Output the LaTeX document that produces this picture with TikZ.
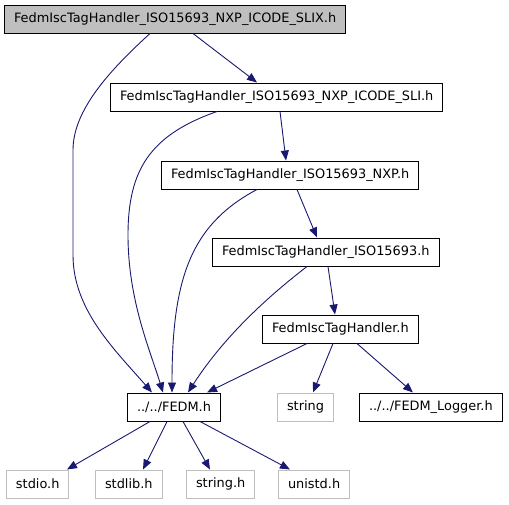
\documentclass[tikz,border=0pt]{standalone}
\usepackage{fontspec}
\setmainfont{DejaVu Sans}
\definecolor{edgeblue}{HTML}{191970}
\definecolor{sysgray}{HTML}{BFBFBF}
\usetikzlibrary{arrows.meta}

\begin{document}
\begin{tikzpicture}[x=1pt, y=-1pt,
    hdr/.style={draw=black, line width=1pt, minimum height=28pt, inner xsep=9.5pt,
        inner ysep=0pt, anchor=west, font=\fontsize{12.9}{15}\selectfont},
    syshdr/.style={hdr, draw=sysgray},
    curhdr/.style={hdr, fill=sysgray},
    incl/.style={draw=edgeblue, line width=0.9pt, -{Triangle[length=10pt,width=8pt]}}]
    \useasboundingbox (0,0) rectangle (509,504);

    % headers, one rank per row
    \node[curhdr] (slix) at (4,19) {FedmIscTagHandler\_ISO15693\_NXP\_ICODE\_SLIX.h};
    \node[hdr] (sli) at (110,97) {FedmIscTagHandler\_ISO15693\_NXP\_ICODE\_SLI.h};
    \node[hdr] (nxp) at (161,175) {FedmIscTagHandler\_ISO15693\_NXP.h};
    \node[hdr] (iso) at (212,252) {FedmIscTagHandler\_ISO15693.h};
    \node[hdr] (handler) at (262,329) {FedmIscTagHandler.h};
    \node[hdr] (fedm) at (127,407) {../../FEDM.h};
    \node[syshdr] (strng) at (277,407) {string};
    \node[hdr] (logger) at (359,407) {../../FEDM\_Logger.h};
    \node[syshdr] (stdio) at (6,484) {stdio.h};
    \node[syshdr] (stdlib) at (95,484) {stdlib.h};
    \node[syshdr] (strh) at (186,484) {string.h};
    \node[syshdr] (unistd) at (278,484) {unistd.h};

    % include edges
    \draw[incl] ([xshift=189pt]slix.south west) -- ([xshift=147pt]sli.north west);
    \draw[incl] ([xshift=146pt]slix.south west) .. controls (110,70) and (73,110) .. (73,150)
        -- (73,255) .. controls (73,310) and (115,350) .. ([xshift=25pt]fedm.north west);
    \draw[incl] ([xshift=107pt]sli.south west) .. controls (150,135) and (128,170) .. (128,235)
        .. controls (128,300) and (150,350) .. ([xshift=36pt]fedm.north west);
    \draw[incl] ([xshift=170pt]sli.south west) -- ([xshift=125pt]nxp.north west);
    \draw[incl] ([xshift=96pt]nxp.south west) .. controls (190,225) and (172,280)
        .. ([xshift=45pt]fedm.north west);
    \draw[incl] ([xshift=136pt]nxp.south west) -- ([xshift=105pt]iso.north west);
    \draw[incl] ([xshift=95pt]iso.south west) .. controls (270,295) and (225,335)
        .. ([xshift=61pt]fedm.north west);
    \draw[incl] ([xshift=116pt]iso.south west) -- ([xshift=73pt]handler.north west);
    \draw[incl] ([xshift=45pt]handler.south west) -- ([xshift=80pt]fedm.north west);
    \draw[incl] ([xshift=71pt]handler.south west) -- ([xshift=36pt]strng.north west);
    \draw[incl] ([xshift=95pt]handler.south west) -- ([xshift=54pt]logger.north west);
    \draw[incl] ([xshift=23pt]fedm.south west) -- ([xshift=61pt]stdio.north west);
    \draw[incl] ([xshift=40pt]fedm.south west) -- ([xshift=48pt]stdlib.north west);
    \draw[incl] ([xshift=56pt]fedm.south west) -- ([xshift=24pt]strh.north west);
    \draw[incl] ([xshift=73pt]fedm.south west) -- ([xshift=12pt]unistd.north west);
\end{tikzpicture}
\end{document}
